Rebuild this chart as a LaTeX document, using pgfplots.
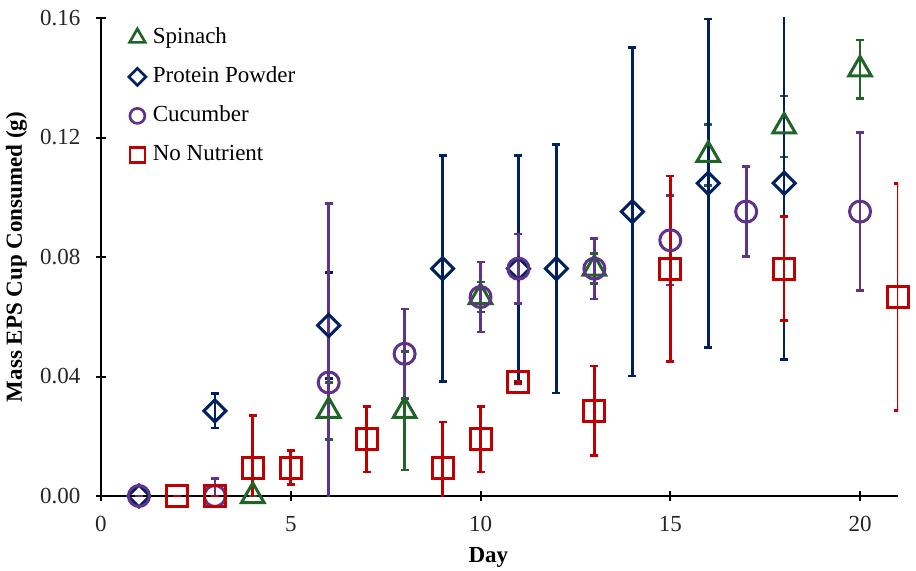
\documentclass[border=0pt]{standalone}
\usepackage{fontspec}
\setmainfont{Liberation Serif}
\usepackage{pgfplots}
\pgfplotsset{compat=1.18}
\definecolor{cgreen}{RGB}{31,102,38}
\definecolor{cnavy}{RGB}{0,32,96}
\definecolor{cpurple}{RGB}{95,50,140}
\definecolor{cred}{RGB}{192,0,0}
\begin{document}
\begin{tikzpicture}[x=1pt,y=1pt]
\path (-101,-74) rectangle (815,496);
\begin{axis}[
  at={(0,0)}, anchor=origin,
  scale only axis, width=797pt, height=478pt,
  xmin=0, xmax=21, ymin=0, ymax=0.16,
  axis x line=bottom, axis y line=left,
  axis line style={-, line width=2pt, black},
  xtick={0,5,10,15,20},
  ytick={0,0.04,0.08,0.12,0.16},
  tick align=center, major tick length=10pt,
  tick style={line width=2pt, black},
  minor tick num=0,
  /pgf/number format/assume math mode=true,
  ticklabel style={font=\fontsize{23}{27}\selectfont, color=black!85},
  yticklabel style={/pgf/number format/.cd, fixed, fixed zerofill, precision=2, /tikz/xshift=-12pt},
  xticklabel style={/pgf/number format/.cd, fixed, precision=0, /tikz/yshift=-12pt},
  xlabel={\textbf{Day}}, ylabel={\textbf{Mass EPS Cup Consumed (g)}},
  every axis x label/.style={font=\fontsize{23}{27}\selectfont, at={(axis description cs:0.486,0)}, anchor=base, yshift=-66pt},
  every axis y label/.style={font=\fontsize{23}{27}\selectfont, at={(axis description cs:0,0.5)}, xshift=-79pt, rotate=90, anchor=base},
  clip=true, clip marker paths=false,
  legend style={at={(axis description cs:0.031,0.985)}, anchor=north west, draw=none, fill=none,
    font=\fontsize{23}{27}\selectfont, row sep=18pt,
    nodes={inner sep=0pt, text height=16pt, text depth=5pt},
    /tikz/every odd column/.style={column sep=7pt}},
  legend cell align=left,
  legend image code/.code={\draw[#1] plot coordinates {(0pt,0pt)};},
  error bars/y dir=both, error bars/y explicit,
  error bars/error bar style={line width=2.7pt},
  error bars/error mark options={rotate=90, mark size=4pt, line width=2.7pt},
]
\addlegendimage{only marks, mark=triangle, color=cgreen, mark size=9pt, line width=2.7pt}
\addlegendentry{Spinach}
\addlegendimage{only marks, mark=square, mark options={rotate=45}, color=cnavy, mark size=6pt, line width=2.7pt}
\addlegendentry{Protein Powder}
\addlegendimage{only marks, mark=o, color=cpurple, mark size=7.5pt, line width=2.7pt}
\addlegendentry{Cucumber}
\addlegendimage{only marks, mark=square, color=cred, mark size=7.5pt, line width=2.7pt}
\addlegendentry{No Nutrient}

% Spinach
\addplot[forget plot, only marks, mark=triangle, color=cgreen, mark size=13pt, line width=3pt]
 table[x=x, y=y, y error=e] {
x y e
4 0 0
6 0.0285 0.0095
8 0.0285 0.0198
10 0.0666 0.005
13 0.0761 0.005
16 0.1142 0.0102
18 0.1237 0.0102
20 0.1428 0.0098
};
% Protein Powder
\addplot[forget plot, only marks, mark=square, mark options={rotate=45}, color=cnavy, mark size=7.8pt, line width=3pt]
 table[x=x, y=y, y error=e] {
x y e
1 0 0
3 0.0285 0.0057
6 0.0571 0.0177
9 0.0761 0.0378
11 0.0761 0.0378
12 0.0761 0.0416
14 0.0952 0.0550
16 0.1047 0.0550
18 0.1047 0.0590
};
% Cucumber
\addplot[forget plot, only marks, mark=o, color=cpurple, mark size=10.5pt, line width=3pt]
 table[x=x, y=y, y error=e] {
x y e
1 0 0
3 0 0.0059
6 0.0380 0.0600
8 0.0476 0.0150
10 0.0666 0.0117
11 0.0761 0.0116
13 0.0761 0.0102
15 0.0856 0.0150
17 0.0952 0.0150
20 0.0952 0.0265
};
% No Nutrient
\addplot[forget plot, only marks, mark=square, color=cred, mark size=10.5pt, line width=3pt]
 table[x=x, y=y, y error=e] {
x y e
2 0 0
3 0 0
4 0.0095 0.0175
5 0.0095 0.0057
7 0.0190 0.0110
9 0.0095 0.0153
10 0.0190 0.0110
11 0.0380 0.0005
13 0.0285 0.0150
15 0.0761 0.0310
18 0.0761 0.0174
21 0.0666 0.0380
};
\end{axis}
\end{tikzpicture}
\end{document}
